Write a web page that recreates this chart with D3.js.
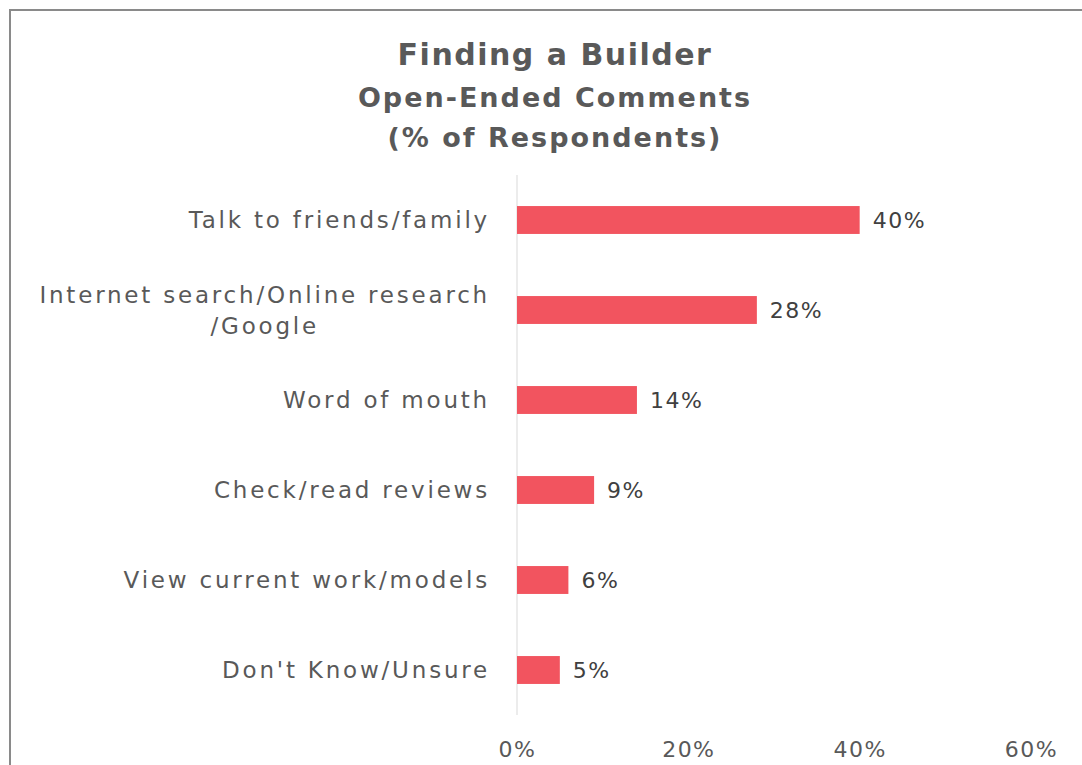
<!DOCTYPE html>
<html>
<head>
<meta charset="utf-8">
<script src="https://cdn.jsdelivr.net/npm/d3@7"></script>
<style>
  body { margin: 0; background: #fff; }
  text { font-family: "DejaVu Sans", sans-serif; }
</style>
</head>
<body>
<script>
// chart data
var categories = [
  ["Talk to friends/family"],
  ["Internet search/Online research", "/Google"],
  ["Word of mouth"],
  ["Check/read reviews"],
  ["View current work/models"],
  ["Don't Know/Unsure"]
];
var values = [40, 28, 14, 9, 6, 5];
var tickValues = [0, 20, 40, 60];
var titleLines = ["Finding a Builder", "Open-Ended Comments", "(% of Respondents)"];

var w = 1082, h = 765;

var svg = d3.select("body").append("svg")
    .attr("width", w)
    .attr("height", h);

// outer frame
svg.append("rect")
    .attr("x", 10).attr("y", 10)
    .attr("width", w + 20).attr("height", h + 20)
    .style("fill", "none")
    .style("stroke", "#8a8a8a")
    .style("stroke-width", 2);

// title
svg.append("text")
    .attr("x", 555).attr("y", 65)
    .attr("text-anchor", "middle")
    .style("font-size", "30px").style("font-weight", "bold")
    .style("letter-spacing", "1.5px")
    .style("fill", "#595959")
    .text(titleLines[0]);
svg.selectAll(".sub").data(titleLines.slice(1)).enter().append("text")
    .attr("class", "sub")
    .attr("x", 555)
    .attr("y", function(d, i){ return 107 + i * 40; })
    .attr("text-anchor", "middle")
    .style("font-size", "27px").style("font-weight", "bold")
    .style("letter-spacing", "2px")
    .style("fill", "#595959")
    .text(function(d){ return d; });

var x = d3.scaleLinear().domain([0, 60]).range([517, 1031]);
var y = d3.scaleBand().domain(d3.range(categories.length)).range([175, 715]).paddingInner(0.69).paddingOuter(0.345);

// value axis labels
var xAxis = svg.append("g")
    .attr("transform", "translate(0,737)")
    .call(d3.axisBottom(x).tickValues(tickValues).tickSize(0).tickPadding(0)
        .tickFormat(function(d){ return d + "%"; }));
xAxis.select(".domain").remove();
xAxis.selectAll("text")
    .attr("dy", "0.9em")
    .style("font-size", "22px")
    .style("letter-spacing", "1.5px")
    .style("fill", "#595959")
    .style("font-family", "'DejaVu Sans', sans-serif");

// category axis line
svg.append("line")
    .attr("x1", x(0)).attr("x2", x(0))
    .attr("y1", 175).attr("y2", 715)
    .style("stroke", "#d9d9d9").style("stroke-width", 1);

// bars
svg.selectAll(".bar").data(values).enter().append("rect")
    .attr("class", "bar")
    .attr("x", x(0))
    .attr("y", function(d, i){ return y(i); })
    .attr("width", function(d){ return x(d) - x(0); })
    .attr("height", y.bandwidth())
    .style("fill", "#f2545f");

// value labels
svg.selectAll(".val").data(values).enter().append("text")
    .attr("class", "val")
    .attr("x", function(d){ return x(d) + 13; })
    .attr("y", function(d, i){ return y(i) + y.bandwidth() / 2; })
    .attr("dy", "0.35em")
    .style("font-size", "22px")
    .style("letter-spacing", "1.5px")
    .style("fill", "#404040")
    .text(function(d){ return d + "%"; });

// category labels
var lineH = 31;
categories.forEach(function(lines, i){
    var cy = y(i) + y.bandwidth() / 2;
    var top = cy - (lines.length - 1) * lineH / 2;
    var g = svg.append("g")
        .style("font-size", "23px")
        .style("letter-spacing", "2.8px")
        .style("fill", "#595959");
    var first = g.append("text")
        .attr("x", 490).attr("y", top)
        .attr("dy", "0.35em")
        .attr("text-anchor", "end")
        .text(lines[0]);
    if (lines.length > 1) {
        var len = first.node().getComputedTextLength();
        var mid = 490 - len / 2;
        first.attr("text-anchor", "middle").attr("x", mid);
        lines.slice(1).forEach(function(l, j){
            g.append("text")
                .attr("x", mid).attr("y", top + (j + 1) * lineH)
                .attr("dy", "0.35em")
                .attr("text-anchor", "middle")
                .text(l);
        });
    }
});
</script>
</body>
</html>
